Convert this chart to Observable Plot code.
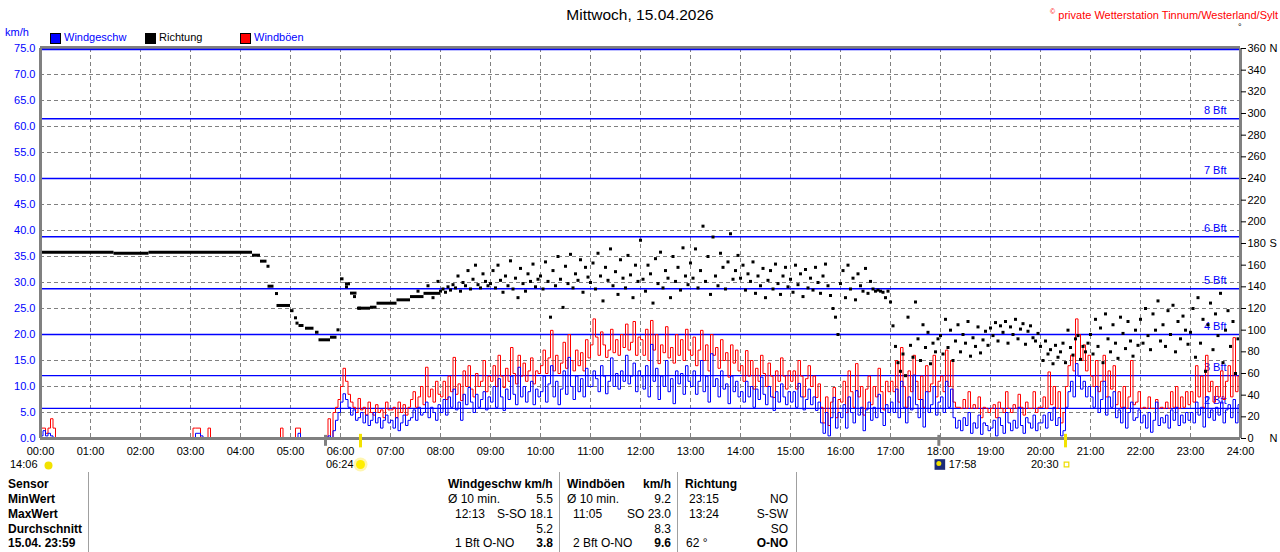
<!DOCTYPE html>
<html>
<head>
<meta charset="utf-8">
<script src="https://cdn.jsdelivr.net/npm/d3@7"></script>
<script src="https://cdn.jsdelivr.net/npm/@observablehq/plot@0.6"></script>
<style>
  body { margin: 0; background: #fff; }
  #wrap { position: relative; width: 1280px; height: 552px; overflow: hidden; background: #fff;
          font-family: "Liberation Sans", Arial, sans-serif; }
  #chart { position: absolute; left: 0; top: 0; }
  .abs { position: absolute; white-space: nowrap; }
  .title { font-size: 15.5px; line-height: 18px; top: 6px; left: 0; width: 1280px; text-align: center; color: #000; }
  .copy { font-size: 11px; line-height: 14px; top: 5px; right: 2px; color: #ff0000; }
  .copy sup { font-size: 7px; }
  .leg { font-size: 11px; line-height: 13px; top: 31px; }
  .sw { position: absolute; top: 33px; width: 9px; height: 9px; border: 1px solid #000; }
  .tb { font-size: 12px; line-height: 15px; color: #000; }
  .b { font-weight: bold; }
  .sep { position: absolute; top: 472px; width: 1px; height: 80px; background: #a0a0a0; }
</style>
</head>
<body>
<div id="wrap">
  <div id="chart"></div>
  <div class="abs title">Mittwoch, 15.04.2026</div>
  <div class="abs copy"><sup>©</sup> private Wetterstation Tinnum/Westerland/Sylt</div>
  <div class="abs" style="left:1238px;top:22px;font-size:9px;">°</div>
  <div class="abs leg" style="left:5px;top:26px;color:#0000ff;">km/h</div>
  <div class="sw" style="left:50px;background:#0000ff;"></div>
  <div class="abs leg" style="left:64px;color:#0000ff;">Windgeschw</div>
  <div class="sw" style="left:145px;background:#000;"></div>
  <div class="abs leg" style="left:159px;color:#000;">Richtung</div>
  <div class="sw" style="left:240px;background:#ff0000;"></div>
  <div class="abs leg" style="left:254px;color:#0000ff;">Windböen</div>

  <div class="sep" style="left:88px;"></div>
  <div class="sep" style="left:559px;"></div>
  <div class="sep" style="left:677px;"></div>
  <div class="sep" style="left:796px;"></div>
  <div id="table"></div>
</div>
<script>
// ---------------- data ----------------
// wind speed (km/h), one value every 3 minutes from 00:00 to 24:00
const speed = [
  0.5,1.5,0.5,1,0.5,0,0,0,0,0,0,0,0,0,0,0,0,0,0,0,            // 00
  0,0,0,0,0,0,0,0,0,0,0,0,0,0,0,0,0,0,0,0,                    // 01
  0,0,0,0,0,0,0,0,0,0,0,0,0,0,0,0,0,0,0,0,                    // 02
  0,0,1,1,0.5,0,0,0,0,0,0,0,0,0,0,0,0,0,0,0,                  // 03
  0,0,0,0,0,0,0,0,0,0,0,0,0,0,0,0,0,0,0,0,                    // 04
  0,0,0,1,0,0,0,0,0,0,0,0,0,0,0,0.5,0,1.5,3.5,5,              // 05
  7,8.6,7.5,6,4.5,5.5,3.5,4,5,3,4.5,2.5,3.5,5,3,4,2,3.5,4.5,3, // 06
  3.5,2,4,1.5,3,4.5,2.5,3.5,4,5.5,3.5,6,4.5,5,7,4,6,5,3.5,6.5, // 07
  5,7.5,4.5,8,6,9.5,5.5,7,3.5,8.5,6.5,9.8,7,5,8.5,6,7.5,9,5.5,8, // 08
  7,10,6,11.5,8,5.4,9.5,7.5,12,8.5,6.5,13.7,8,10,7,9,11,6.5,9.5,8, // 09
  9,12,7,10.5,14,8,11,6.5,9.5,13,8.5,15.6,10,7.5,12,9,11.5,8,13.5,10, // 10
  10,13,11.5,9,14,12,8.6,11,15.5,10,12.5,9.5,13,11,16,10.5,12,14.5,9,13, // 11
  12,9.5,14,8,18.1,11,13.5,7.5,12,10,15,9,11.5,6.7,13,10.5,12.5,8.5,14,11, // 12
  10,13,8.5,11,15,9,12,7,16.3,10,11.5,8,13,9.5,10.5,6.7,12,9,11,8, // 13
  9,7,11,8,10,6,9.5,7.5,11.8,8.5,6.5,10,8,5.4,9,7,10.5,8,6.5,9, // 14
  7,9,6,10.6,8,5.5,7.5,9.5,6.5,8,5.4,7,3,1,5,0.5,4,7.9,2,5,    // 15
  4,6.5,2,8,5,3,9.2,4.5,6,1.5,5.5,7,3.5,6,4,8.5,5,2.5,6.5,5,   // 16
  7,5,9.5,4,11,6,3,8,5.5,12.2,6.5,4,7.5,2.2,9,5,6.5,10,4.5,7,  // 17
  8,5,11,6,9.5,4,2,3.5,1.5,4,2.5,5,1,3,2,4.5,0.8,3,2.5,1.5,    // 18
  2,3.5,0.5,4,2.5,1,5,3,1.5,3.5,2,6,2.5,1,4,3,2,4.5,1.5,3,     // 19
  3,4.5,2,5,3.5,6,2.5,4,0.5,1.5,6,9,11,8,14.4,12,9.5,11,8,10,  // 20
  8,6,10,5,7.5,11,4.5,8,6,9,4,5.5,3,6,2,5,7,3.5,4,5.5,         // 21
  3,4.5,2,5,1.2,3.5,7,2.5,4,3,4.5,2,5.5,3.5,6,2.5,4.5,3,5,3.5, // 22
  5,3,7,4.5,6,2.2,8,4,5.5,3.5,6,4.5,7,3,5.5,6.5,4,7.5,3,6.5,   // 23
  7                                                            // 24:00
];
// gusts (km/h), same 3-minute steps
const gust = [
  2,2,1,2,3.8,2,0,0,0,0,0,0,0,0,0,0,0,0,0,0,                  // 00
  0,0,0,0,0,0,0,0,0,0,0,0,0,0,0,0,0,0,0,0,                    // 01
  0,0,0,0,0,0,0,0,0,0,0,0,0,0,0,0,0,0,0,0,                    // 02
  0,2,2,2,0,0,0,2,0,0,0,0,0,0,0,0,0,0,0,0,                    // 03
  0,0,0,0,0,0,0,0,0,0,0,0,0,0,0,0,2,0,0,0,                    // 04
  0,0,2,2,0,0,0,0,0,0,0,0,0,0,0,3.8,0,5,6,7.5,                // 05
  10,13.5,11,8.5,7,6,5,7.7,5.5,6,4.5,7,5,4.5,6.5,5,5.5,4,7,5.5, // 06
  5.5,6,4,7,5,6.5,4.5,6,7.5,9,6,8,10,6.5,13.7,8,9.5,7,11,8.5,   // 07
  8,11,7.5,12,9,15.6,8.5,10.5,7.3,13,10,14,9.5,8,12.5,10,11,15,9,12, // 08
  11,14,10,16,12,9.8,13.5,11,17.5,12.5,10.5,16,12,14.5,11,13,15.5,10.5,13,12.5, // 09
  14,17,12.5,15.5,20.8,13,16,12.5,14.5,18.5,13.5,20,15,13,17,14,16.5,13,19,15.5, // 10
  18,23,19.5,16,20.5,18,15.6,17,21,16.5,19,16,20,17.5,22,17,18.5,22.5,16,19.5, // 11
  19,16,21,15,22.7,17,20,14.4,18,16.5,21.5,15.5,17.5,14.5,20,16,19,15,21,17, // 12
  16,19.5,14,17,20.8,15,18,13,20,16,17.5,13.5,19,15,16.5,11.8,18,14.5,17,13, // 13
  14,11,16.9,12,15,9.5,13.5,11,16,12.5,10,14.5,12,7.9,13,11,15.5,12,9.5,13, // 14
  11,13,9.5,15,12,8,11.5,14,10,12,7.9,10.5,6,3,8,2.5,7,9.8,4,7.5, // 15
  7,11,5,13,9,6,14.4,8,10,4.5,9.5,12,6.5,10,8,13.5,9,5.5,11,9,   // 16
  11,9,15,7,17.5,10,6,13,9,16,11,7.5,12,6,14,9,10.5,16,8,11,     // 17
  12,9,17,10,15,7,6,6,5.8,7.5,5.8,9,5.8,6.5,5.8,8,4,6,5.8,5,     // 18
  5.8,6.5,4,7,5.8,5,9,5.8,5,6.5,5.8,8.5,6,4.5,7,5.8,5.8,9,5,6,   // 19
  6,8,5.8,12.8,6.5,10,5.8,9,3,5,10,14,16,13,23,20,15,18,13,16,   // 20
  12,10,15,9,11,16,8,13,9.5,14,6.5,9,6,10,5.8,8,15,6.5,7,9,      // 21
  5.8,6,5.8,8,5.8,5.8,7.5,5.8,6,5.8,7,5.8,9,6,10,5.8,8,6,9,6.5,  // 22
  9,7,14,8,12,6,16,9,11,7,10,8,13,7.5,11,14,8,19.4,9,12,         // 23
  11                                                             // 24:00
];
// wind direction (degrees): steady runs [from h, to h, deg]
const dirSteady = [
  [0,1.47,172],[1.47,2.17,171],[2.17,4.24,172],[4.24,4.4,169.2],[4.4,4.53,163.7],
  [4.55,4.67,140.6],[4.73,5.0,122.8],[5.0,5.07,118],[5.17,5.27,104.3],[5.3,5.47,101.8],
  [5.5,5.57,98.1],[5.57,5.8,91.1],[5.8,5.93,93.5],[6.0,6.07,147.4],[6.1,6.2,142.8],
  [6.2,6.33,134.2],[6.34,6.6,120.3],[6.6,6.73,121.2],[6.73,7.13,124.9],[7.13,7.4,128],
  [7.4,7.67,131],[7.67,8.0,134]
];
// isolated direction readings [h, deg]
const dirSingle = [
  [4.55,159],[4.72,133.8],[5.1,111.4],[5.13,106.5],[5.95,100.3],[6.38,120.3],
  [6.12,140],[6.28,131],[7.75,141],[7.85,130],[7.95,145],[7.55,136]
];
// scattered direction (degrees), every 3 minutes from 08:00 to 24:00
const dirScatter = [
  136,138,135,140,137,142,139,150,136,144,141,155,138,147,160,142,139,152,145,141, // 08
  143,155,139,160,146,135,150,141,164,138,148,130,157,143,136,152,145,161,140,147, // 09
  150,138,163,145,112,155,141,168,147,121,159,143,170,139,152,146,165,135,158,149, // 10
  144,162,138,171,150,127,158,146,175,141,154,133,165,148,139,169,151,130,160,145, // 11
  183,147,136,160,152,125,166,143,172,139,155,148,130,168,145,158,137,176,150,142, // 12
  162,148,175,139,155,196,145,168,133,186,150,141,171,158,138,163,189,147,155,169, // 13
  148,160,137,152,145,163,134,150,141,157,130,146,155,138,161,143,133,150,158,140, // 14
  147,135,160,142,152,131,156,139,148,137,158,144,134,150,161,141,132,120,112,96,  // 15
  143,155,130,160,138,148,128,152,141,136,157,134,145,138,136,137,136,135,130,136, // 16
  126,104,85,70,62,78,58,112,86,75,126,92,72,105,84,98,69,88,80,92,                // 17
  95,78,110,84,100,72,90,105,80,96,88,108,76,93,85,103,79,91,99,86,                // 18
  102,95,107,90,104,98,108,88,103,96,110,92,101,106,87,99,104,93,90,97,            // 19
  85,72,90,78,82,69,86,75,80,88,70,100,84,77,92,95,73,85,80,88,                    // 20
  96,78,110,85,102,70,115,92,80,105,88,74,112,97,83,108,90,76,100,86,              // 21
  110,88,120,95,82,115,100,127,90,105,85,118,96,123,80,108,92,113,100,87,          // 22
  98,120,75,130,88,110,62,105,125,82,115,95,134,70,100,118,85,108,60,92            // 23
];
const hours = [0,1,2,3,4,5,6,7,8,9,10,11,12,13,14,15,16,17,18,19,20,21,22,23,24];
const kmhTicks = [0,5,10,15,20,25,30,35,40,45,50,55,60,65,70,75];
const dirTicks = [0,20,40,60,80,100,120,140,160,180,200,220,240,260,280,300,320,340,360];
const dirLetters = [[0,"N"],[180,"S"],[360,"N"]];
const bftLevels = [5.8, 12.1, 20.0, 28.8, 38.8, 50.0, 61.5];
const bftLabels = ["2 Bft","3 Bft","4 Bft","5 Bft","6 Bft","7 Bft","8 Bft"];
const sunEvents = [6.4, 20.5];       // sunrise, sunset
const sunLabels = ["06:24", "20:30"];
const moonEvents = [0, 17.967];      // moonrise (previous day), moonset
const moonLabels = ["14:06", "17:58"];
const grayMarks = [5.7, 17.967];

// ---------------- chart ----------------
const toKmh = d => d * 75 / 360;
const speedData = speed.map((v, i) => ({t: i / 20, v}));
const gustData = gust.map((v, i) => ({t: i / 20, v}));
const scatterData = dirScatter.map((d, i) => ({t: 8 + i / 20, d}));
const BLUE = "#0000ff", GRAY = "#808080", YEL = "#f2e200";
const below = -5; // label row below the axis (km/h units)

const chart = Plot.plot({
  width: 1280, height: 470,
  marginTop: 48, marginRight: 40, marginBottom: 32, marginLeft: 40,
  x: {domain: [0, 24]},
  y: {domain: [0, 75]},
  style: {fontFamily: "Liberation Sans, Arial, sans-serif", fontSize: "11px", background: "white", color: "black", overflow: "visible"},
  marks: [
    // grid
    Plot.ruleX(hours.slice(1, -1), {stroke: GRAY, strokeDasharray: "4,3", strokeWidth: 1}),
    Plot.ruleY(kmhTicks.slice(1, -1), {stroke: GRAY, strokeDasharray: "4,3", strokeWidth: 1}),
    // Beaufort lines
    Plot.ruleY(bftLevels, {stroke: BLUE, strokeWidth: 1.4}),
    Plot.text(bftLevels, {x: 24, y: d => d, text: (d, i) => bftLabels[i], textAnchor: "end", dx: -14, dy: -8, fill: BLUE, fontSize: 11}),
    // gusts and speed
    Plot.line(gustData, {x: "t", y: "v", stroke: "#ff0000", strokeWidth: 1, curve: "step-after"}),
    Plot.line(speedData, {x: "t", y: "v", stroke: BLUE, strokeWidth: 1, curve: "step-after"}),
    // direction
    Plot.ruleY(dirSteady, {y: d => toKmh(d[2]), x1: d => d[0], x2: d => d[1], stroke: "black", strokeWidth: 3}),
    Plot.dot(dirSingle, {x: d => d[0], y: d => toKmh(d[1]), symbol: "square", r: 1.7, fill: "black"}),
    Plot.dot(scatterData, {x: "t", y: d => toKmh(d.d), symbol: "square", r: 1.7, fill: "black"}),
    // frame
    Plot.ruleY([75], {stroke: GRAY, strokeWidth: 3, dy: -1}),
    Plot.ruleY([75], {stroke: BLUE, strokeWidth: 1.4, dy: 1}),
    Plot.ruleX([0, 24], {stroke: GRAY, strokeWidth: 3}),
    Plot.ruleY([0], {stroke: GRAY, strokeWidth: 3}),
    // axes
    Plot.axisY(kmhTicks, {anchor: "left", tickFormat: d3.format(".1f"), tickSize: 0, tickPadding: 5, color: BLUE, fontSize: 11, label: null}),
    Plot.axisY(dirTicks.map(toKmh), {anchor: "right", tickFormat: v => String(Math.round(v * 360 / 75)), tickSize: 5, tickPadding: 2, color: "black", fontSize: 11, label: null}),
    Plot.text(dirLetters, {x: 24, y: d => toKmh(d[0]), text: d => d[1], textAnchor: "start", dx: 29, fill: "black", fontSize: 11}),
    Plot.axisX(hours, {anchor: "bottom", tickFormat: h => String(h).padStart(2, "0") + ":00", tickSize: 0, tickPadding: 9, color: "black", fontSize: 11, label: null}),
    // sun / moon markers
    Plot.ruleX(grayMarks, {x: d => d, y1: -1.5, y2: 0.6, stroke: GRAY, strokeWidth: 3}),
    Plot.ruleX(sunEvents, {x: d => d, y1: -1.8, y2: 0.8, stroke: YEL, strokeWidth: 3}),
    Plot.text(sunEvents, {x: d => d, y: below, text: (d, i) => sunLabels[i], textAnchor: "end", dx: -7, fill: "black", fontSize: 11}),
    Plot.dot([sunEvents[0]], {x: d => d, y: below, r: 7, fill: "#fff6b0"}),
    Plot.dot([sunEvents[0]], {x: d => d, y: below, r: 4.5, fill: "#ffee00"}),
    Plot.dot([sunEvents[1]], {x: d => d, y: below, symbol: "square", r: 2.6, fill: "white", stroke: "#eedd00", strokeWidth: 1.2, dx: 1}),
    Plot.text([moonEvents[0]], {x: d => d, y: below, text: () => moonLabels[0], textAnchor: "end", dx: -3, fill: "black", fontSize: 11}),
    Plot.dot([moonEvents[0]], {x: d => d, y: below, r: 4, fill: "#f2e200", dx: 8, dy: 1}),
    Plot.text([moonEvents[1]], {x: d => d, y: below, text: () => moonLabels[1], textAnchor: "start", dx: 10, fill: "black", fontSize: 11}),
    Plot.dot([moonEvents[1]], {x: d => d, y: below, symbol: "square", r: 6, fill: "#1c2b78", dx: 1}),
    Plot.dot([moonEvents[1]], {x: d => d, y: below, r: 2.5, fill: "#f2e200", dx: 0, dy: -1})
  ]
});
document.getElementById("chart").appendChild(chart);

// ---------------- table ----------------
const rowY = [477, 492, 507, 522, 536];
const rowNames = ["Sensor", "MinWert", "MaxWert", "Durchschnitt", "15.04. 23:59"];
const cells = [
  // [text, x, row, align, bold]
  ["Windgeschw km/h", 448, 0, "l", 1],
  ["Ø 10 min.", 448, 1, "l", 0], ["5.5", 553, 1, "r", 0],
  ["12:13", 455, 2, "l", 0], ["S-SO 18.1", 553, 2, "r", 0],
  ["5.2", 553, 3, "r", 0],
  ["1 Bft O-NO", 455, 4, "l", 0], ["3.8", 553, 4, "r", 1],
  ["Windböen", 567, 0, "l", 1], ["km/h", 671, 0, "r", 1],
  ["Ø 10 min.", 567, 1, "l", 0], ["9.2", 671, 1, "r", 0],
  ["11:05", 573, 2, "l", 0], ["SO 23.0", 671, 2, "r", 0],
  ["8.3", 671, 3, "r", 0],
  ["2 Bft O-NO", 573, 4, "l", 0], ["9.6", 671, 4, "r", 1],
  ["Richtung", 685, 0, "l", 1],
  ["23:15", 689, 1, "l", 0], ["NO", 788, 1, "r", 0],
  ["13:24", 689, 2, "l", 0], ["S-SW", 788, 2, "r", 0],
  ["SO", 788, 3, "r", 0],
  ["62 °", 686, 4, "l", 0], ["O-NO", 788, 4, "r", 1]
];
const tbl = document.getElementById("table");
rowNames.forEach((n, i) => {
  const s = document.createElement("div");
  s.className = "abs tb b";
  s.style.left = "8px"; s.style.top = rowY[i] + "px";
  s.textContent = n;
  tbl.appendChild(s);
});
cells.forEach(([txt, x, r, al, b]) => {
  const s = document.createElement("div");
  s.className = "abs tb" + (b ? " b" : "");
  s.style.top = rowY[r] + "px";
  if (al === "r") { s.style.right = (1280 - x) + "px"; } else { s.style.left = x + "px"; }
  s.textContent = txt;
  tbl.appendChild(s);
});
</script>
</body>
</html>
